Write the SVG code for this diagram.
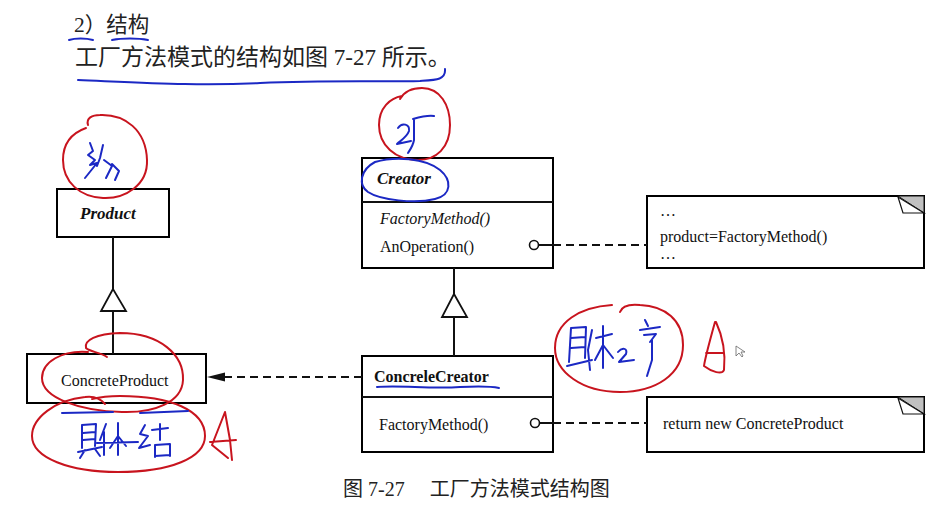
<svg xmlns="http://www.w3.org/2000/svg" width="951" height="508" viewBox="0 0 951 508">
<defs>
<style>
.box{fill:#fff;stroke:#000;stroke-width:2}
.ln{stroke:#111;stroke-width:2;fill:none}
.dash{stroke:#111;stroke-width:2;fill:none;stroke-dasharray:8 5}
.tri{fill:#fff;stroke:#111;stroke-width:1.8}
.t{font-family:"Liberation Serif","Times New Roman",serif;font-size:16px;fill:#111}
.bi{font-weight:bold;font-style:italic;font-size:17px}
.b{font-weight:bold}
.i{font-style:italic}
.cn{font-family:"Liberation Serif","Noto Sans CJK SC",serif;fill:#222}
.red{stroke:#c8141e;stroke-width:2;fill:none;stroke-linecap:round;stroke-linejoin:round}
.blue{stroke:#1b28c4;stroke-width:2;fill:none;stroke-linecap:round;stroke-linejoin:round}
</style>
</defs>
<rect width="951" height="508" fill="#fff"/>

<g id="heading">
<text class="cn" x="74" y="32" font-size="21.5">2）结构</text>
<text class="cn" x="75" y="65" font-size="23">工厂方法模式的结构如图 7-27 所示。</text>
<text class="cn" x="343" y="496" font-size="20">图 7-27　 工厂方法模式结构图</text>
</g>

<g id="product">
<rect class="box" x="57" y="189" width="112" height="48"/>
<text class="t bi" x="80" y="219">Product</text>
</g>

<g id="concreteProduct">
<rect class="box" x="27" y="354" width="179" height="49"/>
<text class="t" x="61" y="386">ConcreteProduct</text>
</g>

<g id="creator">
<rect class="box" x="362" y="158" width="191" height="110"/>
<line class="ln" x1="362" y1="202" x2="553" y2="202"/>
<text class="t bi" x="377" y="184">Creator</text>
<text class="t i" x="380" y="224">FactoryMethod()</text>
<text class="t" x="380" y="252" font-size="17">AnOperation()</text>
</g>

<g id="concreteCreator">
<rect class="box" x="362" y="356" width="191" height="96"/>
<line class="ln" x1="362" y1="397" x2="553" y2="397"/>
<text class="t b" x="374" y="382">ConcreleCreator</text>
<text class="t" x="379" y="430">FactoryMethod()</text>
</g>

<g id="note1">
<rect class="box" x="647" y="196" width="277" height="72"/>
<polygon points="898,196 924,196 924,213" fill="#c0c0c0" stroke="#111" stroke-width="1"/>
<polygon points="898,197 903,213 924,213" fill="#fff" stroke="#111" stroke-width="1.2"/>
<text class="t" x="660" y="216">…</text>
<text class="t" x="660" y="242" font-size="17">product=FactoryMethod()</text>
<text class="t" x="660" y="259">…</text>
</g>

<g id="note2">
<rect class="box" x="647" y="397" width="277" height="55"/>
<polygon points="898,397 924,397 924,414" fill="#c0c0c0" stroke="#111" stroke-width="1"/>
<polygon points="898,398 903,414 924,414" fill="#fff" stroke="#111" stroke-width="1.2"/>
<text class="t" x="663" y="429">return new ConcreteProduct</text>
</g>

<g id="connectors">
<line class="ln" x1="113" y1="237" x2="113" y2="289"/>
<line class="ln" x1="113" y1="311" x2="113" y2="354"/>
<polygon class="tri" points="113,289 101,311 126,311"/>
<line class="ln" x1="454" y1="268" x2="454" y2="294"/>
<line class="ln" x1="454" y1="317" x2="454" y2="356"/>
<polygon class="tri" points="454,294 442,317 467,317"/>
<line class="dash" x1="362" y1="377" x2="222" y2="377"/>
<polygon points="207,377 225,372.5 225,381.5" fill="#111"/>
<line class="ln" x1="539" y1="245" x2="553" y2="245"/>
<line class="dash" x1="553" y1="245" x2="647" y2="245"/>
<circle cx="534" cy="245" r="4.5" fill="#fff" stroke="#111" stroke-width="1.6"/>
<line class="ln" x1="540" y1="423" x2="553" y2="423"/>
<line class="dash" x1="553" y1="423" x2="647" y2="423"/>
<circle cx="535" cy="423" r="4.5" fill="#fff" stroke="#111" stroke-width="1.6"/>
</g>

<g id="annotations">
<path class="blue" d="M69,40 C75,38 86,38 93,40"/>
<path class="blue" d="M112,40 C122,38 138,38 148,40"/>
<path class="blue" d="M78,80 C150,83 200,86 260,83 C330,80 380,82 420,81 C436,80 446,80 445,69"/>
<path class="red" d="M88,125 C86,118 92,115 100,115 C125,114 146,130 147,160 C148,185 125,199 103,198 C80,197 63,182 63,160 C63,143 72,133 86,128"/>
<path class="blue" d="M90,143 L93,151 L88,155 L95,160 L90,165 L97,163 L85,178 M103,145 L100,158 L97,166 M104,160 L112,166 L106,178 M112,164 L119,171 L115,180"/>
<path class="red" d="M400,99 C404,92 412,88 422,88 C440,88 450,105 450,125 C450,148 436,160 418,160 C395,160 379,145 379,125 C379,108 390,98 402,96"/>
<path class="blue" d="M398,128 C402,122 410,124 409,131 C407,137 400,141 397,144 L411,141 M413,119 C420,117 428,115 434,116 M414,120 L414,140 C413,146 410,150 408,153"/>
<path class="blue" d="M375,162 C395,156 425,158 440,170 C452,180 452,195 435,199 C415,204 380,200 368,192 C358,185 360,170 375,162"/>
<path class="blue" d="M377,387 C400,385 430,389 460,387 C480,386 490,386 499,388"/>
<path class="red" d="M107,357 C100,352 90,352 86,348 C84,340 96,334 120,333 C160,333 184,355 183,380 C182,402 155,413 122,412 C80,411 42,398 42,378 C42,362 62,350 88,352"/>
<path class="red" d="M105,404 C100,398 92,396 85,397 C55,400 32,418 32,436 C32,458 70,472 118,472 C170,472 205,458 205,436 C205,410 170,396 120,396 C110,396 100,397 92,399"/>
<path class="blue" d="M62,413 L113,412 M140,413 L188,411"/>
<path class="blue" d="M82,425 L82,448 M82,425 L96,424 L95,446 M83,433 L95,432 M83,440 L95,439 M78,452 L102,447 M85,450 L80,458 M95,449 L100,456 M106,424 L100,440 M104,432 L104,455 M97,443 L138,442 M118,423 L118,455 M118,436 L110,448 M118,436 L126,446 M145,425 L140,434 L148,436 L139,448 L150,445 M152,430 L168,428 M160,424 L160,440 M155,445 L155,457 M155,445 L170,444 L170,456 M155,456 L170,455"/>
<path class="red" d="M225,412 L212,445 L228,458 M225,412 L230,440 L232,460 M210,442 L236,440"/>
<path class="red" d="M620,312 C622,306 630,304 640,305 C665,306 683,320 683,345 C683,375 655,392 620,392 C582,392 555,372 555,348 C555,322 580,307 612,305"/>
<path class="blue" d="M571,328 L569,362 M571,328 L586,327 L585,358 M571,338 L585,337 M571,348 L585,347 M567,366 L592,360 M592,330 L588,350 L590,370 M596,338 L612,334 M603,326 L603,368 M603,345 L595,360 M603,345 L613,358 M618,352 C622,347 628,348 626,354 L619,362 L634,360 M645,320 L648,326 M640,330 L660,327 M644,335 L656,334 L650,342 M652,340 L652,360 L647,376"/>
<path class="red" d="M715,322 C710,340 705,358 704,366 C712,372 722,375 724,370 C726,350 722,335 716,322 M706,353 L723,353"/>
<path d="M736,346 L736,356 L739,353 L742,357 L743,356 L741,352 L745,352 Z" fill="#fff" stroke="#666" stroke-width="0.8"/>
</g>
</svg>
